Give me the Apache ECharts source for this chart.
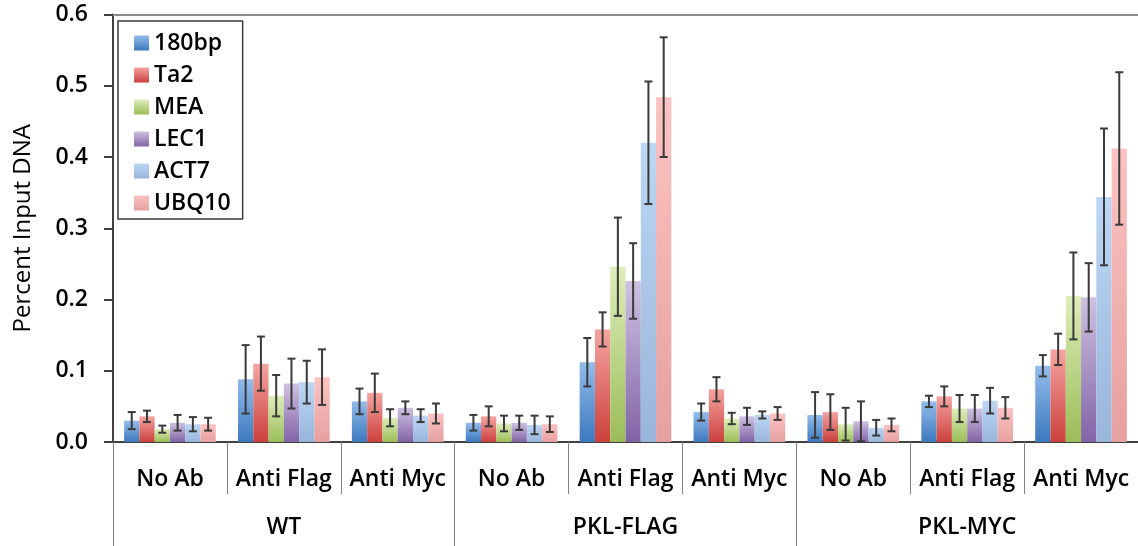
<!DOCTYPE html>
<html>
<head>
<meta charset="utf-8">
<script src="https://cdn.jsdelivr.net/npm/echarts@6/dist/echarts.min.js"></script>
<style>html,body{margin:0;padding:0;background:#fff}#c{width:1138px;height:546px}</style>
</head>
<body>
<div id="c"></div>
<script>
// ---- data ----
const conditions = ['No Ab','Anti Flag','Anti Myc','No Ab','Anti Flag','Anti Myc','No Ab','Anti Flag','Anti Myc'];
const strains = ['WT','PKL-FLAG','PKL-MYC'];
const seriesNames = ['180bp','Ta2','MEA','LEC1','ACT7','UBQ10'];
const yTicks = [0, 0.1, 0.2, 0.3, 0.4, 0.5, 0.6];

const v180bp = [0.030, 0.088, 0.057, 0.027, 0.112, 0.042, 0.038, 0.057, 0.107];
const e180bp = [0.012, 0.048, 0.018, 0.011, 0.034, 0.012, 0.032, 0.008, 0.015];
const vTa2   = [0.036, 0.110, 0.069, 0.036, 0.158, 0.074, 0.042, 0.064, 0.130];
const eTa2   = [0.008, 0.038, 0.027, 0.014, 0.024, 0.017, 0.025, 0.014, 0.022];
const vMEA   = [0.018, 0.065, 0.034, 0.026, 0.246, 0.033, 0.025, 0.047, 0.205];
const eMEA   = [0.005, 0.029, 0.012, 0.011, 0.069, 0.008, 0.023, 0.019, 0.061];
const vLEC1  = [0.027, 0.082, 0.048, 0.027, 0.226, 0.036, 0.029, 0.047, 0.203];
const eLEC1  = [0.011, 0.035, 0.009, 0.010, 0.053, 0.012, 0.028, 0.019, 0.048];
const vACT7  = [0.025, 0.084, 0.037, 0.024, 0.420, 0.038, 0.020, 0.058, 0.344];
const eACT7  = [0.010, 0.030, 0.009, 0.013, 0.086, 0.005, 0.011, 0.018, 0.096];
const vUBQ10 = [0.025, 0.091, 0.040, 0.025, 0.484, 0.040, 0.024, 0.048, 0.412];
const eUBQ10 = [0.009, 0.039, 0.014, 0.011, 0.084, 0.009, 0.009, 0.015, 0.107];

const values = [v180bp, vTa2, vMEA, vLEC1, vACT7, vUBQ10];
const errors = [e180bp, eTa2, eMEA, eLEC1, eACT7, eUBQ10];

// ---- styles ----
const FONT = '"Open Sans", "Liberation Sans", Arial, sans-serif';
const FS = 23;
const FW = 600;
const colorPairs = [
  ['#93BCEB', '#3C79BE'],
  ['#F5A4A1', '#CB403C'],
  ['#DDEEBA', '#9BBD58'],
  ['#CFC1E2', '#8264A6'],
  ['#BDD6F5', '#98B5DA'],
  ['#FCC3C2', '#E6A0A0']
];
const GAP = 0.195;

function grad(c) {
  return {type:'linear', x:0, y:0, x2:0, y2:1,
    colorStops:[{offset:0, color:c[0]}, {offset:1, color:c[1]}]};
}

const barSeries = seriesNames.map((n, i) => ({
  name: n, type: 'bar', xAxisIndex: 0, yAxisIndex: 0,
  barGap: '0%', barCategoryGap: (GAP*100)+'%',
  itemStyle: {color: grad(colorPairs[i])},
  data: values[i], z: 2
}));

const errSeries = seriesNames.map((n, i) => ({
  name: 'err_' + n, type: 'custom', xAxisIndex: 0, yAxisIndex: 0, z: 5,
  data: values[i].map((v, k) => [k, v - errors[i][k], v + errors[i][k]]),
  renderItem: function (params, api) {
    const k = api.value(0);
    const lo = api.coord([k, api.value(1)]);
    const hi = api.coord([k, api.value(2)]);
    const band = api.size([1, 0])[0];
    const bw = band * (1 - GAP) / 6;
    const x = lo[0] + (i - 2.5) * bw;
    const cap = 4;
    const st = {stroke: '#3a3a3a', lineWidth: 2};
    return {type: 'group', children: [
      {type: 'line', shape: {x1: x, y1: lo[1], x2: x, y2: hi[1]}, style: st},
      {type: 'line', shape: {x1: x - cap, y1: lo[1], x2: x + cap, y2: lo[1]}, style: st},
      {type: 'line', shape: {x1: x - cap, y1: hi[1], x2: x + cap, y2: hi[1]}, style: st}
    ]};
  }
}));

const chart = echarts.init(document.getElementById('c'), null, {renderer: 'canvas'});
chart.setOption({
  animation: false,
  backgroundColor: '#fff',
  textStyle: {fontFamily: FONT},
  grid: {left: 113, top: 14.5, bottom: 104, width: 1028, containLabel: false},
  legend: {
    orient: 'vertical', left: 118, top: 21,
    data: seriesNames, icon: 'rect', itemWidth: 15, itemHeight: 15, itemGap: 8,
    padding: [10, 12, 4, 16], borderColor: '#3a3a3a', borderWidth: 1.5,
    backgroundColor: '#fff', selectedMode: false,
    textStyle: {fontFamily: FONT, fontSize: FS, fontWeight: FW, color: '#000', lineHeight: 24}
  },
  xAxis: [
    {
      type: 'category', data: conditions, position: 'bottom',
      axisLine: {show: true, lineStyle: {color: '#404040', width: 2}},
      axisTick: {show: true, interval: 0, length: 52, lineStyle: {color: '#808080', width: 1}},
      axisLabel: {interval: 0, margin: 26, fontSize: FS, fontWeight: FW, color: '#000', fontFamily: FONT}
    },
    {
      type: 'category', data: strains, position: 'bottom',
      axisLine: {show: false},
      axisTick: {show: true, interval: 0, length: 104, lineStyle: {color: '#808080', width: 1}},
      axisLabel: {interval: 0, margin: 74, fontSize: FS, fontWeight: FW, color: '#000', fontFamily: FONT}
    },
    {
      type: 'category', data: strains, position: 'top',
      axisLine: {show: true, lineStyle: {color: '#8a8a8a', width: 2}},
      axisTick: {show: false}, axisLabel: {show: false}
    }
  ],
  yAxis: {
    type: 'value', min: yTicks[0], max: yTicks[yTicks.length - 1], interval: 0.1,
    name: 'Percent Input DNA', nameLocation: 'middle', nameGap: 78,
    nameTextStyle: {fontSize: 24, fontWeight: 500, color: '#000', fontFamily: FONT},
    axisLine: {show: true, lineStyle: {color: '#404040', width: 2}},
    axisTick: {show: true, length: 9, lineStyle: {color: '#404040', width: 2}},
    splitLine: {show: false},
    axisLabel: {margin: 25, fontSize: FS, fontWeight: FW, color: '#000', fontFamily: FONT,
      formatter: v => v.toFixed(1)}
  },
  series: barSeries.concat(errSeries)
});
</script>
</body>
</html>
